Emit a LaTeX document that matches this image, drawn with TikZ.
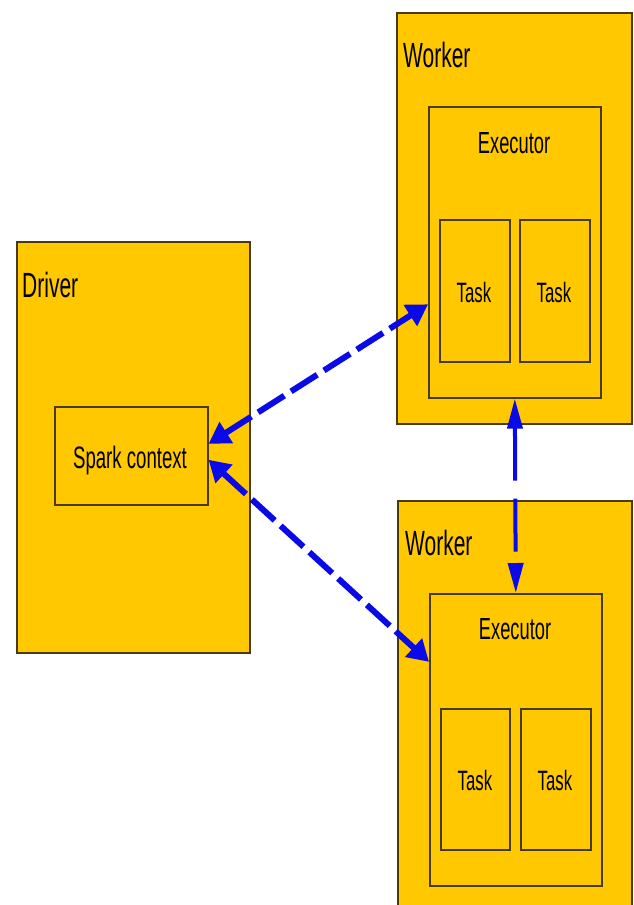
\documentclass[tikz,border=0pt]{standalone}
\usepackage{fontspec}
\setmainfont{Liberation Sans}
\usetikzlibrary{arrows.meta,calc}
\definecolor{gold}{HTML}{FFC800}
\definecolor{edge}{HTML}{4A3A12}
\definecolor{link}{HTML}{0A0AE8}
% condensed label text: size in pt, then the text
\newcommand{\narrow}[2]{\fontsize{#1}{#1}\selectfont\scalebox{0.6}[1]{#2}}

\begin{document}
\begin{tikzpicture}[x=1pt,y=-1pt,
  box/.style={draw=edge,line width=1.6pt,fill=gold,anchor=north west,inner sep=0pt},
  lbl/.style={inner sep=0pt,text=black},
  linkline/.style={draw=link,line width=6pt,dash pattern=on 31pt off 8pt,
    {Triangle[length=21pt,width=24pt]}-{Triangle[length=21pt,width=24pt]}},
  linkvert/.style={draw=link,line width=4pt,dash pattern=on 53pt off 18pt,
    {Triangle[length=30pt,width=15pt]}-{Triangle[length=30pt,width=15pt]}}]
\useasboundingbox (0,0) rectangle (634,905);
\clip (0,0) rectangle (634,905);

% driver
\node[box,minimum width=233pt,minimum height=411pt] (driver) at (16,241) {};
\node[lbl,anchor=base west] (driverlbl) at (22,297) {\narrow{35}{Driver}};
\node[box,minimum width=153pt,minimum height=98pt] (spark) at (54,406) {};
\node[lbl,anchor=base] (sparklbl) at (130,468) {\narrow{31}{Spark context}};

% first worker
\node[box,minimum width=235pt,minimum height=411pt] (worker1) at (396,12) {};
\node[lbl,anchor=base west] (worker1lbl) at (403,67) {\narrow{35}{Worker}};
\node[box,minimum width=172pt,minimum height=291pt] (exec1) at (428,106) {};
\node[lbl,anchor=base] (exec1lbl) at (514,153) {\narrow{30.5}{Executor}};
\node[box,minimum width=70pt,minimum height=142pt] (task1a) at (439,219) {};
\node[box,minimum width=70pt,minimum height=142pt] (task1b) at (519,219) {};
\node[lbl,anchor=base] at (474,302) {\narrow{28}{Task}};
\node[lbl,anchor=base] at (554,302) {\narrow{28}{Task}};

% second worker
\node[box,minimum width=234pt,minimum height=420pt] (worker2) at (397,500) {};
\node[lbl,anchor=base west] (worker2lbl) at (405,555) {\narrow{35}{Worker}};
\node[box,minimum width=172pt,minimum height=292pt] (exec2) at (429,593) {};
\node[lbl,anchor=base] (exec2lbl) at (515,639) {\narrow{30.5}{Executor}};
\node[box,minimum width=69pt,minimum height=141pt] (task2a) at (440,708) {};
\node[box,minimum width=70pt,minimum height=141pt] (task2b) at (520,708) {};
\node[lbl,anchor=base] at (475,790) {\narrow{28}{Task}};
\node[lbl,anchor=base] at (555,790) {\narrow{28}{Task}};

% links between driver and executors
\draw[linkline] ([yshift=12pt]spark.east) -- ([yshift=-52pt]exec1.west);
\draw[linkline] ([yshift=-4pt]spark.east) -- ([yshift=78pt]exec2.west);
\draw[linkvert] (exec1.south) -- (exec2.north);
\end{tikzpicture}
\end{document}
